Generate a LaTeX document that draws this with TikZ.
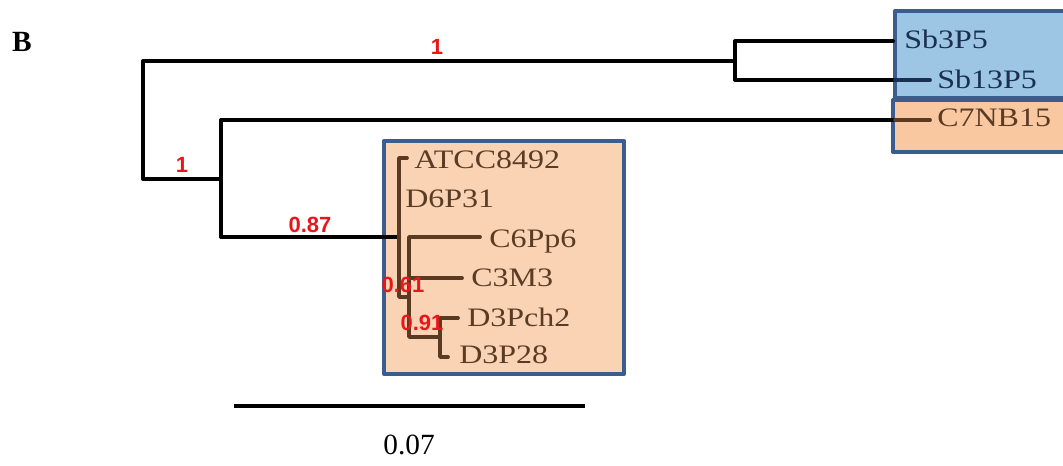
\documentclass[tikz,border=0pt]{standalone}
\usepackage{fontspec}
\setmainfont{Liberation Serif}
\newfontfamily\taxafont[FakeStretch=1.2]{Liberation Serif}
\newfontfamily\supportfont{Liberation Sans}
\definecolor{treeBrown}{HTML}{5A3A20}
\definecolor{taxaBrown}{HTML}{5A3C25}
\definecolor{taxaNavy}{HTML}{1B3050}
\definecolor{cladeBlue}{HTML}{9DC6E5}
\definecolor{cladeOrange}{HTML}{FAD2B4}
\definecolor{cladeOrangeB}{HTML}{F9C8A0}
\definecolor{cladeBorder}{HTML}{3B5C8C}
\definecolor{supportRed}{HTML}{E8161B}
\begin{document}
\begin{tikzpicture}
% Phylogram exported as pixel grid
\def\pxsz{0.75pt}
\providecommand{\treeLineWidth}{3pt}
\providecommand{\cladeLineWidth}{2.8pt}
\providecommand{\boxLineWidth}{3pt}
\tikzset{
  branch/.style={draw=black, line width=\treeLineWidth},
  cladebranch/.style={draw=treeBrown, line width=\cladeLineWidth},
  taxon/.style={anchor=west, inner sep=0pt, text height=13pt, text depth=0pt,
    font=\taxafont\fontsize{20}{22}\selectfont, text=taxaBrown},
  support/.style={inner sep=0pt, text=supportRed,
    font=\supportfont\bfseries\fontsize{16.5}{18}\selectfont},
  cladebox/.style={draw=cladeBorder, line width=\boxLineWidth}
}
\begin{scope}[x=\pxsz, y=-\pxsz, line cap=round, line join=round]
  \useasboundingbox (0,0) rectangle (1063,466);
  % Clade boxes
  \path[cladebox, fill=cladeOrange] (384,141) rectangle (624,374);
  \path[cladebox, fill=cladeBlue] (895,11) rectangle (1075,98);
  \path[cladebox, fill=cladeOrangeB] (893,100) rectangle (1075,152);
  % Internal nodes and tips
  \coordinate (root) at (143,120);
  \coordinate (nSb) at (735,61);
  \coordinate (nB) at (221,179);
  \coordinate (nC) at (399,237);
  \coordinate (nD) at (409,297);
  \coordinate (nE) at (440,337);
  \coordinate (sb3Tip) at (893,41);
  \coordinate (sb13Edge) at (895,80);
  \coordinate (sb13Tip) at (930,80);
  \coordinate (c7Edge) at (895,120);
  \coordinate (c7Tip) at (930,120);
  \coordinate (atccTip) at (407,158);
  \coordinate (d6Tip) at (399,198);
  \coordinate (c6Tip) at (480,237);
  \coordinate (c3Tip) at (462,278);
  \coordinate (pch2Tip) at (458,318);
  \coordinate (p28Tip) at (448,357);
  % Backbone
  \draw[branch] (root) |- (nSb);
  \draw[branch] (root) |- (nB);
  \draw[branch] (nSb) |- (sb3Tip);
  \draw[branch] (nSb) |- (sb13Edge);
  \draw[branch] (nB) |- (c7Edge);
  \draw[branch] (nB) |- (nC);
  \draw[draw=taxaNavy, line width=\cladeLineWidth] (sb13Edge) -- (sb13Tip);
  \draw[cladebranch] (c7Edge) -- (c7Tip);
  % Boxed clade
  \draw[cladebranch] (nC) |- (atccTip);
  \draw[cladebranch] (nC) |- (d6Tip);
  \draw[cladebranch] (nC) |- (nD);
  \draw[cladebranch] (nD) |- (c6Tip);
  \draw[cladebranch] (nD) |- (c3Tip);
  \draw[cladebranch] (nD) |- (nE);
  \draw[cladebranch] (nE) |- (pch2Tip);
  \draw[cladebranch] (nE) |- (p28Tip);
  % Taxa
  \node[taxon, text=taxaNavy] (sb3) at (904,40) {Sb3P5};
  \node[taxon, text=taxaNavy] (sb13) at (937,80) {Sb13P5};
  \node[taxon] (c7) at (937,118) {C7NB15};
  \node[taxon] (atcc) at (414,160) {ATCC8492};
  \node[taxon] (d6) at (405,199) {D6P31};
  \node[taxon] (c6) at (489,239) {C6Pp6};
  \node[taxon] (c3) at (471,278) {C3M3};
  \node[taxon] (pch2) at (467,318) {D3Pch2};
  \node[taxon] (p28) at (459,355) {D3P28};
  % Support values
  \node[support] (bsSb) at (437,47) {1};
  \node[support] (bsB) at (182,165) {1};
  \node[support] (bsC) at (310,225) {0.87};
  \node[support] (bsD) at (403,285) {0.61};
  \node[support] (bsE) at (422,323) {0.91};
  % Scale bar
  \coordinate (barL) at (234,406);
  \coordinate (barR) at (585,406);
  \draw[draw=black, line width=2.4pt, line cap=butt] (barL) -- (barR);
  \node[inner sep=0pt, font=\fontsize{22}{24}\selectfont] (barLabel) at (409,445) {0.07};
  % Panel letter
  \node[inner sep=0pt, font=\bfseries\fontsize{22}{24}\selectfont] (panel) at (22,42) {B};
\end{scope}
\end{tikzpicture}
\end{document}
